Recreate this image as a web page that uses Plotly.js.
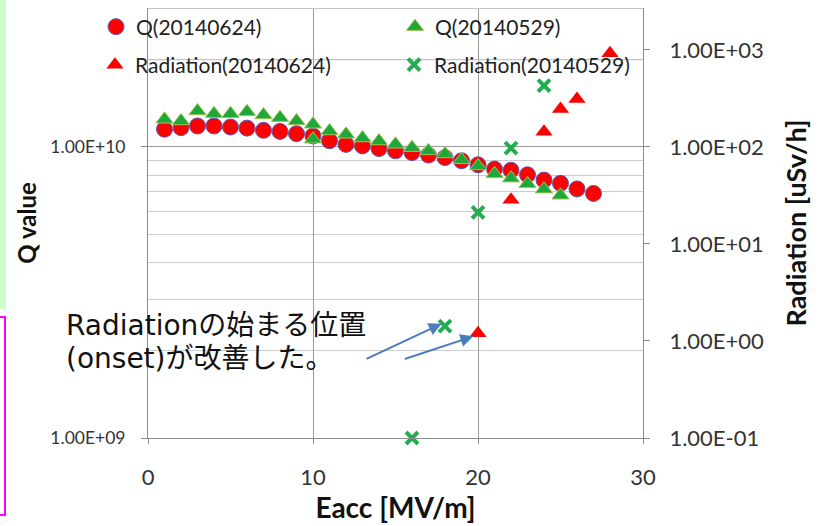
<!DOCTYPE html>
<html>
<head>
<meta charset="utf-8">
<script src="https://cdn.plot.ly/plotly-3.0.1.min.js"></script>
<style>
html,body{margin:0;padding:0;background:#fff;overflow:hidden}
#wrap{position:relative;width:827px;height:526px;background:#fff}
#chart{position:absolute;left:0;top:0;width:827px;height:526px}
#g{position:absolute;left:0;top:0;width:6px;height:309px;background:#ccffcc;z-index:5}
#m{position:absolute;left:-10px;top:316px;width:12px;height:196px;border:2px solid #ff00ff;z-index:5}
</style>
</head>
<body>
<div id="wrap"><div id="chart"></div><div id="g"></div><div id="m"></div></div>
<script>
// ---- data ----
const eacc0624 = [1,2,3,4,5,6,7,8,9,10,11,12,13,14,15,16,17,18,19,20,21,22,23,24,25,26,27];
const q0624 = [1.15e10,1.164e10,1.18e10,1.18e10,1.17e10,1.16e10,1.14e10,1.13e10,1.11e10,1.09e10,
               1.05e10,1.02e10,1.008e10,9.87e9,9.69e9,9.56e9,9.37e9,9.19e9,8.96e9,8.68e9,
               8.39e9,8.31e9,8.02e9,7.69e9,7.5e9,7.17e9,6.92e9];
const eacc0529 = [1,2,3,4,5,6,7,8,9,10,10,11,12,13,14,15,16,17,18,19,20,21,22,23,24,25];
const q0529 = [1.244e10,1.228e10,1.328e10,1.30e10,1.30e10,1.32e10,1.287e10,1.26e10,1.228e10,
               1.196e10,1.063e10,1.134e10,1.105e10,1.073e10,1.048e10,1.021e10,9.94e9,9.69e9,
               9.46e9,9.03e9,8.6e9,8.08e9,7.81e9,7.47e9,7.16e9,6.82e9];
const radE0624 = [20,22,24,25,26,28];
const rad0624 = [1.2,28.5,143,246,311,925];
const radE0529 = [16,18,20,22,24];
const rad0529 = [0.1,1.42,21.1,97,428];

const qTickVals = [1e9,1e10];
const qTickText = ['1.00E+09','1.00E+10'];
const qMinorVals = [2e9,3e9,4e9,5e9,6e9,7e9,8e9,9e9,2e10,3e10];
const rTickVals = [0.1,1,10,100,1000];
const rTickText = ['1.00E-01','1.00E+00','1.00E+01','1.00E+02','1.00E+03'];
const seriesNames = ['Q(20140624)','Q(20140529)','Radiation(20140624)','Radiation(20140529)'];
const noteLines = ['Radiationの始まる位置','(onset)が改善した。'];

// ---- geometry helpers (pixel -> paper) ----
const ML = 148, MT = 7, PW = 495, PH = 431;
const px = v => (v - ML) / PW;
const py = v => (MT + PH - v) / PH;
const qRange = [9, Math.log10(3e10)];
const qPaper = v => (Math.log10(v) - qRange[0]) / (qRange[1] - qRange[0]);

const traces = [
  {x: eacc0624, y: q0624, name: seriesNames[0], type:'scatter', mode:'markers', yaxis:'y', legend:'legend',
   cliponaxis:false,
   marker:{symbol:'circle', size:16, color:'#ff0000', line:{color:'#5a5ab4', width:1}}},
  {x: eacc0529, y: q0529, name: seriesNames[1], type:'scatter', mode:'markers', yaxis:'y', legend:'legend2',
   cliponaxis:false,
   marker:{symbol:'triangle-up', size:15, color:'#1ea83a', line:{color:'#a4c257', width:1}}},
  {x: radE0624, y: rad0624, name: seriesNames[2], type:'scatter', mode:'markers', yaxis:'y2', legend:'legend3',
   cliponaxis:false,
   marker:{symbol:'triangle-up', size:15, color:'#ff0000', line:{width:0}}},
  {x: radE0529, y: rad0529, name: seriesNames[3], type:'scatter', mode:'markers', yaxis:'y2', legend:'legend4',
   cliponaxis:false,
   marker:{symbol:'x-thin', size:12, color:'#22ad50', line:{color:'#22ad50', width:4}}}
];

const legBase = {orientation:'v', bgcolor:'rgba(0,0,0,0)', borderwidth:0, xanchor:'left', yanchor:'middle',
                 font:{family:'Lato, sans-serif', size:21, color:'#222'}, itemclick:false};

const noteFont = {family:'DejaVu Sans, Noto Sans CJK JP, sans-serif', size:28, color:'#111'};

// minor gridlines above the top major tick
const upperGrid = qMinorVals.filter(v => v > 1e10).map(v => ({
  type:'line', xref:'paper', yref:'paper', x0:0, x1:1, y0:qPaper(v) - 0.0012, y1:qPaper(v) - 0.0012,
  layer:'above', line:{color:'#c4c4c4', width:1}
}));

const layout = {
  width:827, height:526,
  margin:{l:ML, r:827-ML-PW, t:MT, b:526-MT-PH, pad:0},
  paper_bgcolor:'rgba(0,0,0,0)', plot_bgcolor:'rgba(0,0,0,0)',
  font:{family:'Lato, sans-serif', color:'#333'},
  showlegend:true,
  xaxis:{range:[0,30], tick0:0, dtick:10, showgrid:true, gridcolor:'#9a9a9a', gridwidth:1,
         zeroline:false, showline:true, linecolor:'#8c8c8c', linewidth:1,
         ticks:'outside', ticklen:5, tickcolor:'#8c8c8c',
         tickfont:{size:22, color:'#333'}, ticklabelstandoff:15,
         title:{text:'Eacc [MV/m]', font:{size:28, color:'#111', weight:'bold'}, standoff:5}},
  yaxis:{type:'log', range:qRange, tickmode:'array', tickvals:qTickVals, ticktext:qTickText,
         showgrid:true, gridcolor:'#9a9a9a', gridwidth:1,
         minor:{tickmode:'array', tickvals:qMinorVals, showgrid:true, gridcolor:'#cccccc', gridwidth:1, ticks:''},
         zeroline:false, showline:true, linecolor:'#8c8c8c', linewidth:1,
         ticks:'outside', ticklen:6, tickcolor:'#8c8c8c',
         tickfont:{size:17.5, color:'#333'}, ticklabelstandoff:12,
         title:{text:'Q value', font:{size:24, color:'#111', weight:'bold'}, standoff:6}},
  yaxis2:{type:'log', overlaying:'y', side:'right', range:[-1, -1 + 3*Math.log10(30)],
          tickmode:'array', tickvals:rTickVals, ticktext:rTickText,
          showgrid:false, zeroline:false, showline:true, linecolor:'#8c8c8c', linewidth:1,
          ticks:'outside', ticklen:6, tickcolor:'#8c8c8c',
          tickfont:{size:22, color:'#333'}, ticklabelstandoff:15,
          title:{text:'Radiation [uSv/h]', font:{size:27, color:'#111', weight:'bold'}, standoff:24}},
  legend: Object.assign({}, legBase, {x:px(96), y:py(27)}),
  legend2: Object.assign({}, legBase, {x:px(395), y:py(27)}),
  legend3: Object.assign({}, legBase, {x:px(95), y:py(65)}),
  legend4: Object.assign({}, legBase, {x:px(394), y:py(65)}),
  shapes: upperGrid,
  annotations:[
    {xref:'paper', yref:'paper', x:px(64), y:py(325), xanchor:'left', yanchor:'middle', align:'left',
     showarrow:false, text:noteLines[0], font:noteFont},
    {xref:'paper', yref:'paper', x:px(64), y:py(358), xanchor:'left', yanchor:'middle', align:'left',
     showarrow:false, text:noteLines[1], font:noteFont},
    {xref:'x', yref:'y', x:17.8, y:9.3928, axref:'x', ayref:'y', ax:13.15, ay:9.2695, text:'',
     showarrow:true, arrowhead:2, arrowsize:1.3, arrowwidth:2, arrowcolor:'#4a7ebb', standoff:0, startstandoff:0},
    {xref:'x', yref:'y', x:19.72, y:9.3493, axref:'x', ayref:'y', ax:15.47, ay:9.2695, text:'',
     showarrow:true, arrowhead:2, arrowsize:1.3, arrowwidth:2, arrowcolor:'#4a7ebb', standoff:0, startstandoff:0}
  ]
};

Plotly.newPlot('chart', traces, layout, {displayModeBar:false, staticPlot:true});
</script>
</body>
</html>
